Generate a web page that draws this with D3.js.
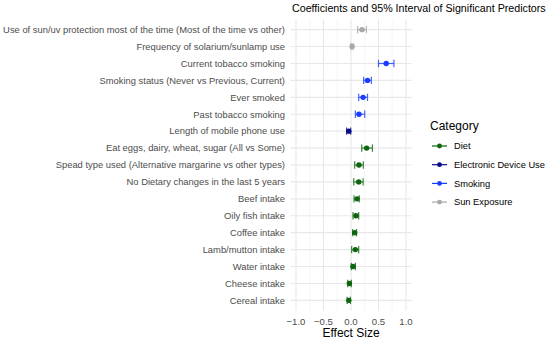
<!DOCTYPE html>
<html><head><meta charset="utf-8">
<script src="https://cdn.jsdelivr.net/npm/d3@7"></script>
<style>body{margin:0;background:#fff}svg{display:block;font-family:"Liberation Sans",Arial,sans-serif}</style>
</head><body><svg id="c" width="550" height="339"></svg>
<script>
const predictors = ["Use of sun/uv protection most of the time (Most of the time vs other)","Frequency of solarium/sunlamp use","Current tobacco smoking","Smoking status (Never vs Previous, Current)","Ever smoked","Past tobacco smoking","Length of mobile phone use","Eat eggs, dairy, wheat, sugar (All vs Some)","Spead type used (Alternative margarine vs other types)","No Dietary changes in the last 5 years","Beef intake","Oily fish intake","Coffee intake","Lamb/mutton intake","Water intake","Cheese intake","Cereal intake"];
const categories = ["Sun Exposure","Sun Exposure","Smoking","Smoking","Smoking","Smoking","Electronic Device Use","Diet","Diet","Diet","Diet","Diet","Diet","Diet","Diet","Diet","Diet"];
const estimates = [0.20,0.02,0.64,0.30,0.22,0.145,-0.04,0.285,0.145,0.14,0.11,0.09,0.067,0.079,0.036,-0.03,-0.04];
const lower = [0.12,0.00,0.50,0.23,0.14,0.08,-0.08,0.195,0.067,0.05,0.055,0.036,0.03,0.012,0.005,-0.06,-0.07];
const upper = [0.28,0.04,0.78,0.37,0.30,0.25,-0.005,0.39,0.224,0.22,0.15,0.14,0.10,0.14,0.08,0.005,-0.01];
const legendCats = ["Diet","Electronic Device Use","Smoking","Sun Exposure"];
const legendColors = ["#0d650d","#0a0a8c","#1a3cff","#a9a9a9"];
const xTicks = [-1.0,-0.5,0.0,0.5,1.0];
const xMinor = [-0.75,-0.25,0.25,0.75];

const svg = d3.select("#c");
const L=290.5, R=411.5, T=19.5, B=310.5;
const x = d3.scaleLinear().domain([-1.1,1.1]).range([L,R]);
const y = d3.scalePoint().domain(predictors).range([T,B]).padding(0.6);
const color = d3.scaleOrdinal().domain(legendCats).range(legendColors);

// grid
const g = svg.append("g");
g.selectAll(".mn").data(xMinor).join("line").attr("x1",d=>x(d)).attr("x2",d=>x(d)).attr("y1",T).attr("y2",B).attr("stroke","#efefef").attr("stroke-width",0.6);
g.selectAll(".mj").data(xTicks).join("line").attr("x1",d=>x(d)).attr("x2",d=>x(d)).attr("y1",T).attr("y2",B).attr("stroke","#e8e8e8").attr("stroke-width",1.1);
g.selectAll(".hy").data(predictors).join("line").attr("x1",L).attr("x2",R).attr("y1",d=>y(d)).attr("y2",d=>y(d)).attr("stroke","#e8e8e8").attr("stroke-width",1.1);

// y labels
svg.append("g").selectAll("text").data(predictors).join("text")
  .attr("x",285).attr("y",d=>y(d)).attr("dy","0.35em").attr("text-anchor","end")
  .attr("font-size",9.4).attr("fill","#4d4d4d").text(d=>d);

// x tick labels
svg.append("g").selectAll("text").data(xTicks).join("text")
  .attr("x",d=>x(d)).attr("y",324.5).attr("text-anchor","middle")
  .attr("font-size",9.6).attr("fill","#4d4d4d").text(d=>d3.format(".1f")(d));

svg.append("text").attr("x",(L+R)/2).attr("y",337).attr("text-anchor","middle").attr("font-size",12).attr("fill","#000").text("Effect Size");
const title = svg.append("text").attr("x",292).attr("y",12).attr("font-size",11).attr("fill","#000").text("Coefficients and 95% Interval of Significant Predictors");
const tw = title.node().getComputedTextLength();
title.attr("font-size", 11*254/tw);

// marks
const data = predictors.map((p,i)=>({p,c:categories[i],e:estimates[i],lo:lower[i],hi:upper[i]}));
const m = svg.append("g");
const cap = 3.7;
data.forEach(d=>{
  const col=color(d.c), yy=y(d.p);
  const eg = m.append("g").attr("stroke",col).attr("stroke-width",1.2).attr("opacity",0.8);
  eg.append("line").attr("x1",x(d.lo)).attr("x2",x(d.hi)).attr("y1",yy).attr("y2",yy);
  eg.append("line").attr("x1",x(d.lo)).attr("x2",x(d.lo)).attr("y1",yy-cap).attr("y2",yy+cap);
  eg.append("line").attr("x1",x(d.hi)).attr("x2",x(d.hi)).attr("y1",yy-cap).attr("y2",yy+cap);
  m.append("circle").attr("cx",x(d.e)).attr("cy",yy).attr("r",2.7).attr("fill",col);
});

// legend
const lg = svg.append("g");
lg.append("text").attr("x",430).attr("y",130).attr("font-size",12).attr("fill","#000").text("Category");
legendCats.forEach((c,i)=>{
  const yy = 146 + i*18.7;
  lg.append("line").attr("x1",432).attr("x2",447).attr("y1",yy).attr("y2",yy).attr("stroke",color(c)).attr("stroke-width",1.2);
  lg.append("circle").attr("cx",439.5).attr("cy",yy).attr("r",2.4).attr("fill",color(c));
  lg.append("text").attr("x",454).attr("y",yy).attr("dy","0.35em").attr("font-size",9.3).attr("fill","#000").text(c);
});
</script></body></html>
